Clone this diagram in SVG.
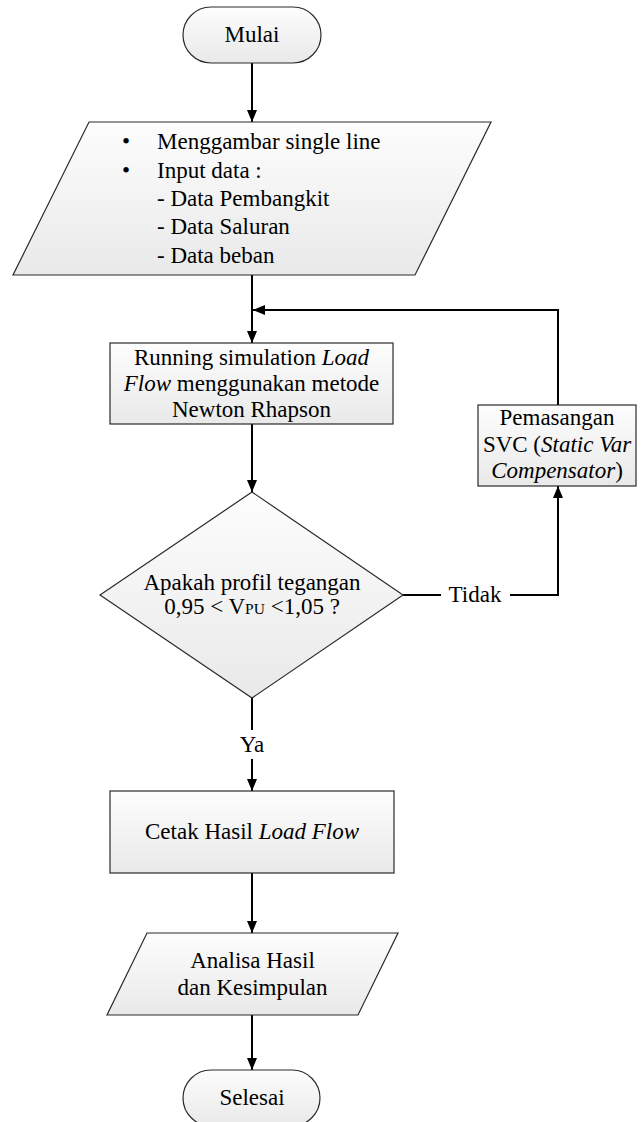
<svg xmlns="http://www.w3.org/2000/svg" width="641" height="1122" viewBox="0 0 641 1122" font-family="'Liberation Serif', 'Times New Roman', Tinos, 'DejaVu Serif', serif">
  <defs>
    <linearGradient id="fillGrad" x1="0" y1="0" x2="0" y2="1">
      <stop offset="0" stop-color="#fdfdfd"/>
      <stop offset="1" stop-color="#e9e9e9"/>
    </linearGradient>
    <marker id="arrow" viewBox="0 0 12 10" refX="12" refY="5" markerWidth="12" markerHeight="10" markerUnits="userSpaceOnUse" orient="auto">
      <path d="M0,0 L12,5 L0,10 Z" fill="#000"/>
    </marker>
    <style>
      .shape { fill: url(#fillGrad); stroke: #2a2a2a; stroke-width: 1.2; }
      .conn { fill: none; stroke: #000; stroke-width: 2; }
      .lbl { font-family: "Liberation Serif", "Times New Roman", serif; font-size: 23px; fill: #000; }
      .mid { text-anchor: middle; }
      .it { font-style: italic; }
    </style>
  </defs>

  <!-- connectors -->
  <g id="connectors">
    <path class="conn" d="M252,63 V122" marker-end="url(#arrow)"/>
    <path class="conn" d="M252,275 V343" marker-end="url(#arrow)"/>
    <path class="conn" d="M558,405 V310 H253" marker-end="url(#arrow)"/>
    <path class="conn" d="M252,424 V492" marker-end="url(#arrow)"/>
    <path class="conn" d="M403,595 H441"/>
    <path class="conn" d="M510,595 H558 V486" marker-end="url(#arrow)"/>
    <path class="conn" d="M252,698 V730"/>
    <path class="conn" d="M252,759 V791" marker-end="url(#arrow)"/>
    <path class="conn" d="M252,873 V933" marker-end="url(#arrow)"/>
    <path class="conn" d="M252,1015 V1070" marker-end="url(#arrow)"/>
    <text class="lbl mid" x="475" y="602">Tidak</text>
    <text class="lbl mid" x="252" y="752">Ya</text>
  </g>

  <g id="start">
    <rect class="shape" x="183" y="7" width="138" height="56" rx="28" ry="28"/>
    <text class="lbl mid" x="252" y="42">Mulai</text>
  </g>

  <g id="input">
    <polygon class="shape" points="89,122 491,122 415,275 13,275"/>
    <text class="lbl" x="122" y="149">•</text>
    <text class="lbl" x="157" y="149">Menggambar single line</text>
    <text class="lbl" x="122" y="177.5">•</text>
    <text class="lbl" x="157" y="177.5">Input data :</text>
    <text class="lbl" x="157" y="206">- Data Pembangkit</text>
    <text class="lbl" x="157" y="234">- Data Saluran</text>
    <text class="lbl" x="157" y="262.5">- Data beban</text>
  </g>

  <g id="loadflow">
    <rect class="shape" x="110" y="343" width="283" height="81"/>
    <text class="lbl mid" x="251.5" y="365">Running simulation <tspan class="it">Load</tspan></text>
    <text class="lbl mid" x="251.5" y="391"><tspan class="it">Flow</tspan> menggunakan metode</text>
    <text class="lbl mid" x="251.5" y="417">Newton Rhapson</text>
  </g>

  <g id="svc">
    <rect class="shape" x="478" y="405" width="158" height="81"/>
    <text class="lbl mid" x="557" y="425">Pemasangan</text>
    <text class="lbl mid" x="557" y="452">SVC (<tspan class="it">Static Var</tspan></text>
    <text class="lbl mid" x="557" y="478"><tspan class="it">Compensator</tspan>)</text>
  </g>

  <g id="decision">
    <polygon class="shape" points="252,492 403,595 252,698 100,595"/>
    <text class="lbl mid" x="252" y="590">Apakah profil tegangan</text>
    <text class="lbl mid" x="252" y="614">0,95 &lt; V<tspan font-size="15.5">PU</tspan> &lt;1,05 ?</text>
  </g>

  <g id="print">
    <rect class="shape" x="110" y="791" width="284" height="82"/>
    <text class="lbl mid" x="252" y="839">Cetak Hasil <tspan class="it">Load Flow</tspan></text>
  </g>

  <g id="analysis">
    <polygon class="shape" points="147,933 398,933 358,1015 107,1015"/>
    <text class="lbl mid" x="252.5" y="968">Analisa Hasil</text>
    <text class="lbl mid" x="252.5" y="995">dan Kesimpulan</text>
  </g>

  <g id="end">
    <rect class="shape" x="183" y="1070" width="137" height="56" rx="28" ry="28"/>
    <text class="lbl mid" x="252" y="1105">Selesai</text>
  </g>
</svg>
